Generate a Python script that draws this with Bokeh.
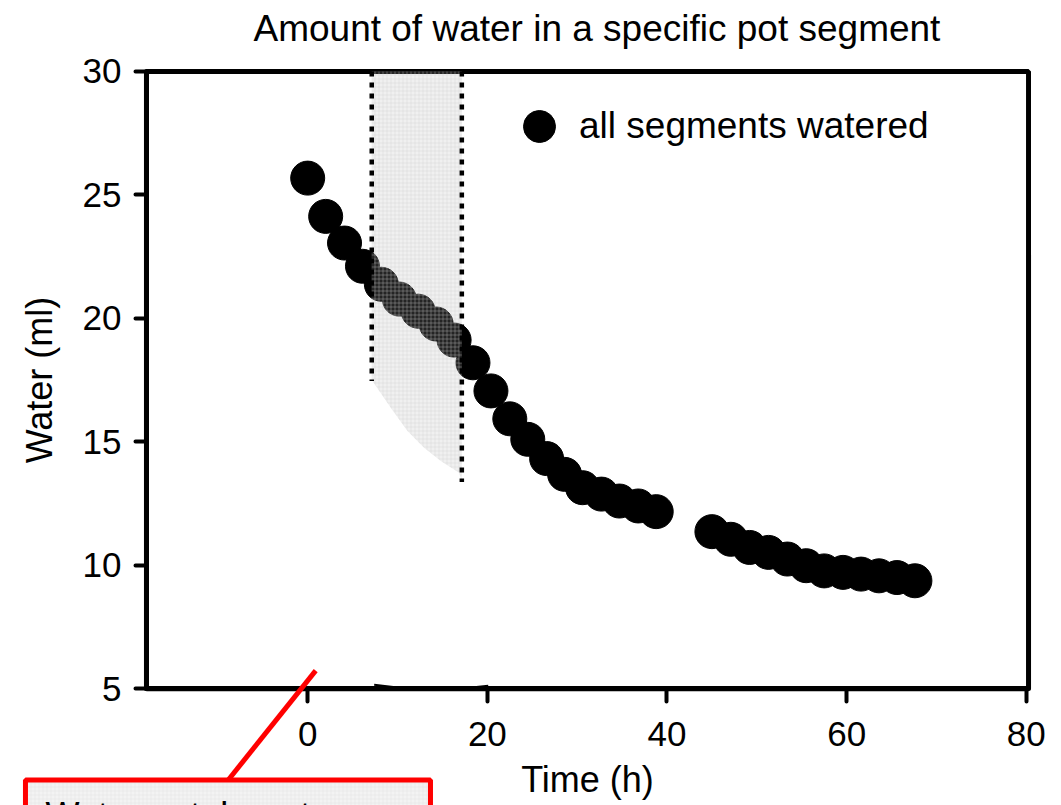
from bokeh.plotting import figure
from bokeh.models import ColumnDataSource, Range1d, FixedTicker, Legend, LegendItem
from bokeh.core.properties import value
from bokeh.embed import file_html
from bokeh.resources import INLINE

# Measured water content of one pot segment (all segments watered)
time_h = [0, 2.0, 4.1, 6.1, 8.2, 10.2, 12.3, 14.3, 16.3, 18.4,
          20.4, 22.5, 24.5, 26.6, 28.6, 30.6, 32.7, 34.7, 36.8, 38.8,
          45.0, 47.1, 49.2, 51.3, 53.4, 55.5, 57.5, 59.6, 61.6, 63.6, 65.6, 67.6]
water_ml = [25.68, 24.13, 23.05, 22.11, 21.38, 20.78, 20.29, 19.77, 19.12, 18.2,
            17.06, 15.93, 15.1, 14.32, 13.68, 13.14, 12.88, 12.6, 12.4, 12.17,
            11.36, 11.05, 10.72, 10.52, 10.25, 9.98, 9.77, 9.71, 9.64, 9.57, 9.5, 9.37]
series_label = "all segments watered"

x_ticks = [0, 20, 40, 60, 80]
y_ticks = [5, 10, 15, 20, 25, 30]

# axis box of the chart (data units)
X_MIN, X_MAX = -17.95, 80.25
Y_MIN, Y_MAX = 5, 30

# highlighted interval (shaded band between two dotted verticals)
band_left, band_right = 7.13, 17.16
band_left_bottom, band_right_bottom = 17.46, 13.37
band_x = [band_left, band_left, band_right, band_right, 16.86, 14.82, 12.96, 11.11, 9.25, 7.21]
band_y = [band_left_bottom, 30, 30, band_right_bottom, 13.75, 14.22, 14.76, 15.44, 16.38, band_left_bottom]

FONT = "Liberation Sans"

# the plotting frame covers the whole page below the title so that the
# callout under the time axis can be drawn; the axes sit at fixed positions
p = figure(width=1061, height=805, output_backend="svg", toolbar_location=None,
           x_range=Range1d(-34.20, 83.92), y_range=Range1d(0.267, 30.728),
           min_border_left=0, min_border_right=0, min_border_top=52, min_border_bottom=0)

p.title.text = "Amount of water in a specific pot segment"
p.title.text_font = FONT
p.title.text_font_size = "37px"
p.title.text_font_style = "normal"
p.title.align = "left"
p.title.offset = 253
p.title.text_color = "black"

p.grid.visible = False
p.outline_line_color = None
p.background_fill_color = "white"
p.border_fill_color = "white"

for ax in (p.xaxis[0], p.yaxis[0]):
    ax.axis_line_width = 5
    ax.axis_line_color = "black"
    ax.axis_line_cap = "round"
    ax.major_tick_line_width = 4
    ax.major_tick_line_cap = "round"
    ax.major_tick_in = 0
    ax.minor_tick_line_color = None
    ax.major_label_text_font = FONT
    ax.major_label_text_font_size = "35px"
    ax.major_label_text_color = "black"
    ax.axis_label_text_font = FONT
    ax.axis_label_text_font_size = "36px"
    ax.axis_label_text_font_style = "normal"
    ax.axis_label_text_color = "black"

p.xaxis.fixed_location = Y_MIN
p.yaxis.fixed_location = X_MIN
p.xaxis.bounds = (X_MIN, X_MAX)
p.yaxis.bounds = (Y_MIN, Y_MAX)
p.xaxis.ticker = FixedTicker(ticks=x_ticks)
p.yaxis.ticker = FixedTicker(ticks=y_ticks)
p.xaxis.major_tick_out = 13
p.yaxis.major_tick_out = 11
p.xaxis.major_label_standoff = 20
p.yaxis.major_label_standoff = 14
p.xaxis.axis_label = "Time (h)"
p.yaxis.axis_label = "Water (ml)"
p.xaxis.axis_label_standoff = 10
p.yaxis.axis_label_standoff = 20

# top and right edges of the axis box
p.quad(left=[X_MIN], right=[X_MAX], bottom=[Y_MIN], top=[Y_MAX],
       fill_color=None, line_color="black", line_width=5)

src = ColumnDataSource(dict(t=time_h, w=water_ml))
pts = p.scatter("t", "w", source=src, size=34, marker="circle",
                fill_color="black", line_color="black")

# stippled band drawn over the points
p.patch(band_x, band_y, fill_color="#b4b4b4", fill_alpha=0.2, line_color=None,
        hatch_pattern="+", hatch_color="#cfcfcf", hatch_alpha=0.35, hatch_scale=4, hatch_weight=1)
p.segment(x0=[band_left, band_right], y0=[Y_MAX, Y_MAX], x1=[band_left, band_right],
          y1=[band_left_bottom, band_right_bottom],
          line_color="black", line_width=4.5, line_dash="5 6")

# faint curve resting on the time axis
p.line([7.4, 10, 13, 16, 18.5, 20.1], [5.16, 5.05, 5.0, 5.0, 5.06, 5.12],
       line_color="black", line_width=2)

# legend swatch is drawn at 0.4 of the glyph box, so the box is enlarged
legend = Legend(items=[LegendItem(label=series_label, renderers=[pts])],
                location=(499, 639), orientation="vertical",
                glyph_width=80, glyph_height=80, label_standoff=0,
                padding=0, margin=0, spacing=0,
                border_line_alpha=0, background_fill_alpha=0,
                label_text_font=FONT, label_text_font_size="37px", label_text_color="black")
p.add_layout(legend)

# red callout under the time axis: leader line and boxed note
leader = p.segment(x0=[0.89], y0=[5.73], x1=[-8.8], y1=[1.32], line_color="red", line_width=5)
leader.level = "overlay"
note_box = p.quad(left=[-31.42], right=[13.67], top=[1.30], bottom=[-1.0],
                  fill_color="#f3f3f3", line_color="red", line_width=5,
                  hatch_pattern="+", hatch_color="#e2e2e2", hatch_alpha=0.5, hatch_scale=4, hatch_weight=1)
note_box.level = "overlay"
note_text = p.text(x=[-29.2], y=[0.71], text=["Water uptake rate"], text_baseline="top",
                   text_align="left", text_font=value(FONT), text_font_size="36px",
                   text_color="black")
note_text.level = "overlay"

open("out.html", "w").write(file_html(p, INLINE))
